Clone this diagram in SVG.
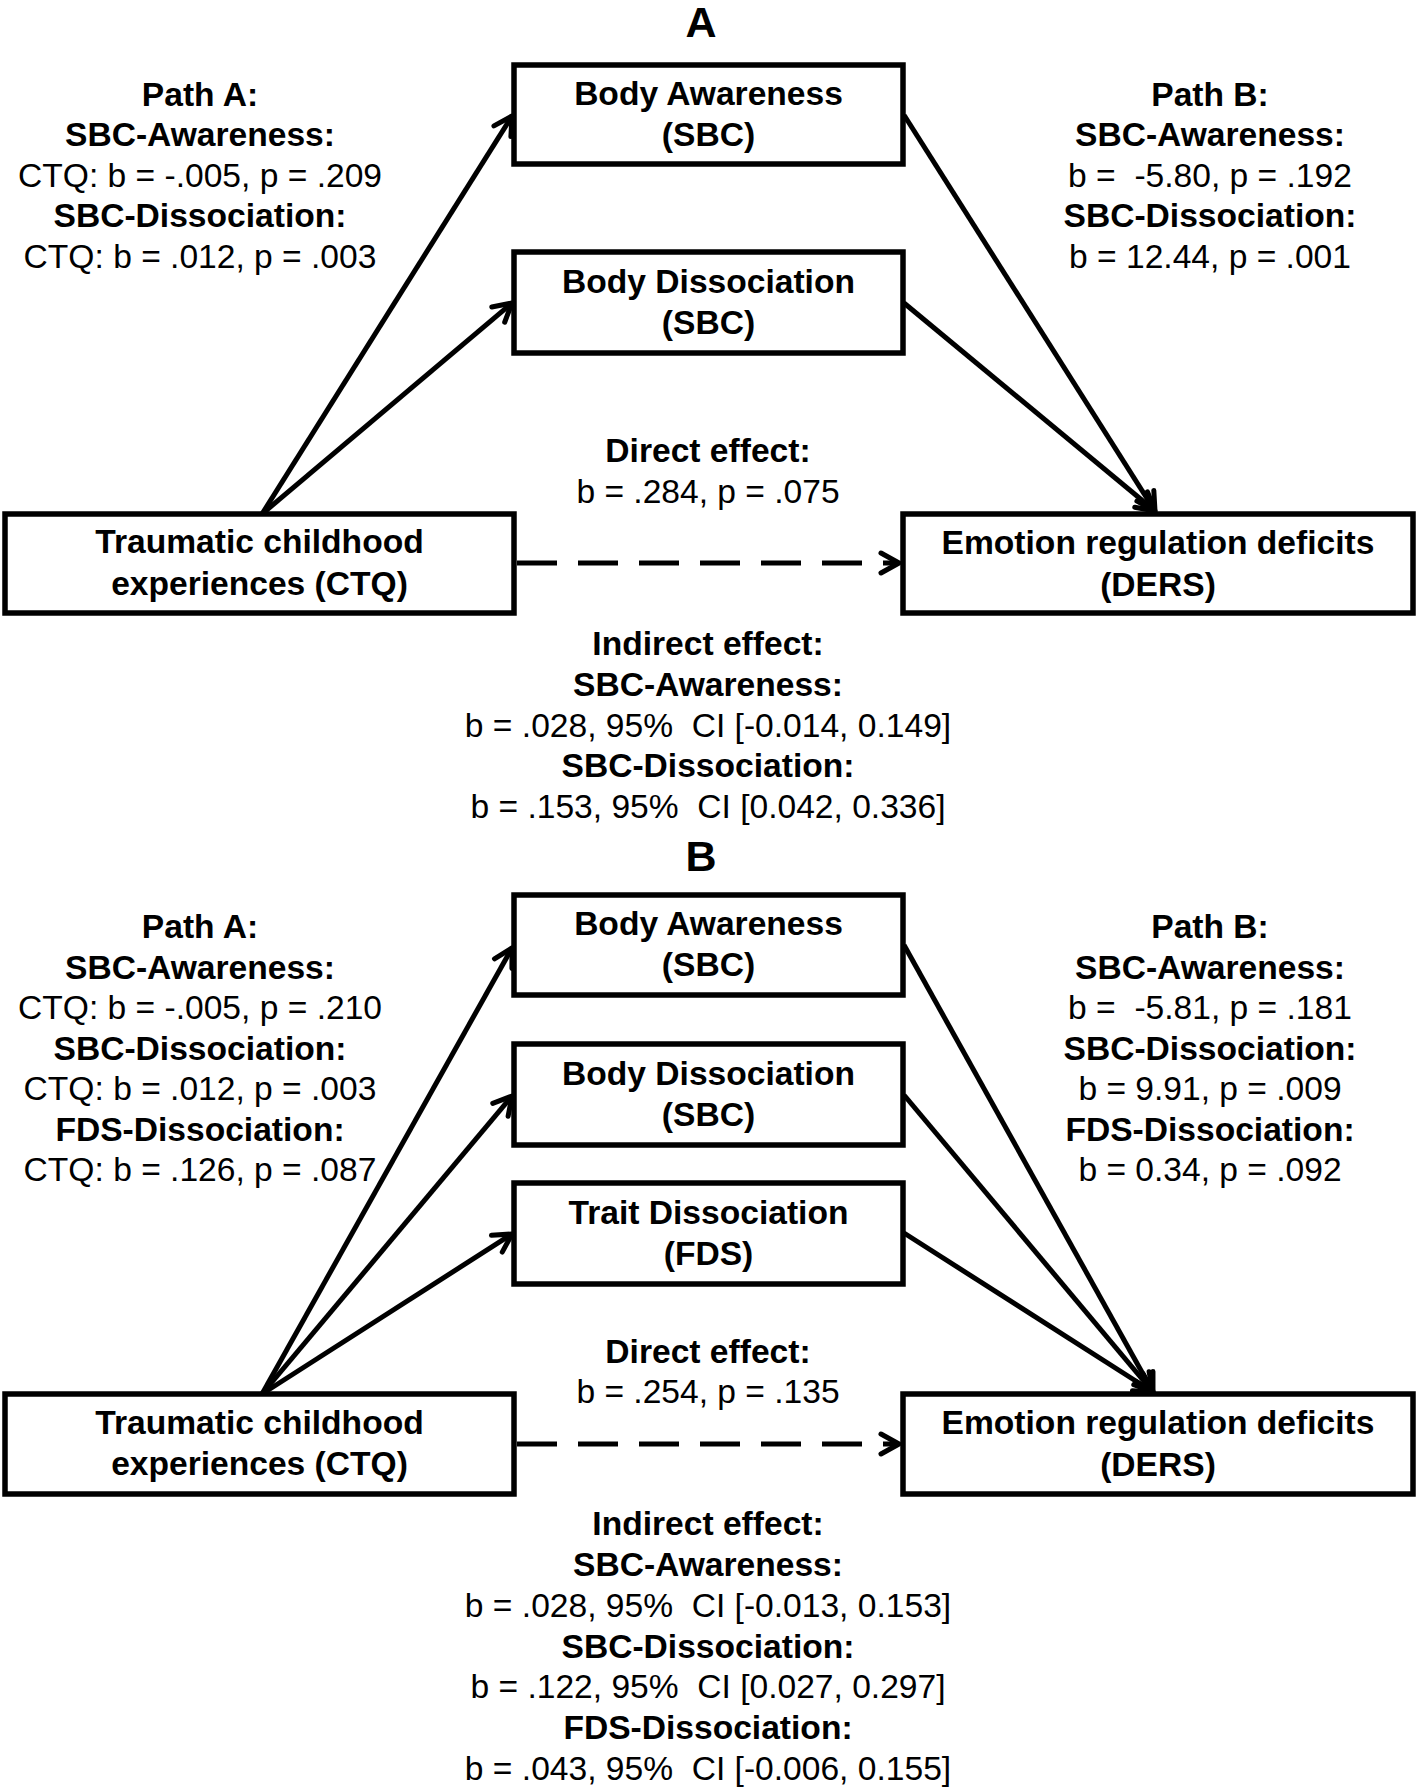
<svg xmlns="http://www.w3.org/2000/svg" width="1418" height="1791" viewBox="0 0 1418 1791">
<style>
.box{fill:#fff;stroke:#000;stroke-width:5.5}
.lab{font-family:"Liberation Sans",Arial,sans-serif;font-size:33.6px;font-weight:bold;text-anchor:middle;fill:#000}
.b{font-family:"Liberation Sans",Arial,sans-serif;font-size:33.6px;font-weight:bold;text-anchor:middle;fill:#000}
.r{font-family:"Liberation Sans",Arial,sans-serif;font-size:33.6px;text-anchor:middle;fill:#000;white-space:pre}
.title{font-family:"Liberation Sans",Arial,sans-serif;font-size:43px;font-weight:bold;text-anchor:middle;fill:#000}
.conn{stroke:#000;stroke-width:5;fill:none;marker-end:url(#ah)}
.dash{stroke-dasharray:40 21}
</style>
<defs>
<marker id="ah" viewBox="0 0 24 24" refX="21" refY="12" markerWidth="24" markerHeight="24" markerUnits="userSpaceOnUse" orient="auto" overflow="visible">
<path d="M3,2 L21,12 L3,22" fill="none" stroke="#000" stroke-width="5" stroke-linecap="round" stroke-linejoin="round"/>
</marker>
</defs>
<rect width="1418" height="1791" fill="#fff"/>

<!-- Panel A -->
<text class="title" x="701" y="37">A</text>

<g id="connectors-A">
<line class="conn" x1="262" y1="514" x2="512" y2="116"/>
<line class="conn" x1="262" y1="514" x2="512" y2="303"/>
<line class="conn" x1="904" y1="115" x2="1155" y2="511"/>
<line class="conn" x1="904" y1="303" x2="1155" y2="511"/>
<line class="conn dash" x1="517" y1="563" x2="899" y2="563"/>
</g>

<g id="nodeA-body-awareness">
<rect class="box" x="514" y="65" width="389" height="99"/>
<text class="lab" x="708.5" y="105">Body Awareness</text>
<text class="lab" x="708.5" y="146">(SBC)</text>
</g>
<g id="nodeA-body-dissociation">
<rect class="box" x="514" y="252" width="389" height="101"/>
<text class="lab" x="708.5" y="293">Body Dissociation</text>
<text class="lab" x="708.5" y="334">(SBC)</text>
</g>
<g id="nodeA-ctq">
<rect class="box" x="5" y="514" width="509" height="99"/>
<text class="lab" x="259.5" y="553">Traumatic childhood</text>
<text class="lab" x="259.5" y="595">experiences (CTQ)</text>
</g>
<g id="nodeA-ders">
<rect class="box" x="903" y="514" width="510" height="99"/>
<text class="lab" x="1158" y="554">Emotion regulation deficits</text>
<text class="lab" x="1158" y="596">(DERS)</text>
</g>

<g id="labelsA-pathA">
<text class="b" x="200" y="106">Path A:</text>
<text class="b" x="200" y="146">SBC-Awareness:</text>
<text class="r" x="200" y="187">CTQ: b = -.005, p = .209</text>
<text class="b" x="200" y="227">SBC-Dissociation:</text>
<text class="r" x="200" y="268">CTQ: b = .012, p = .003</text>
</g>
<g id="labelsA-pathB">
<text class="b" x="1210" y="106">Path B:</text>
<text class="b" x="1210" y="146">SBC-Awareness:</text>
<text class="r" x="1210" y="187">b =  -5.80, p = .192</text>
<text class="b" x="1210" y="227">SBC-Dissociation:</text>
<text class="r" x="1210" y="268">b = 12.44, p = .001</text>
</g>
<g id="labelsA-direct">
<text class="b" x="708" y="462">Direct effect:</text>
<text class="r" x="708" y="503">b = .284, p = .075</text>
</g>
<g id="labelsA-indirect">
<text class="b" x="708" y="655">Indirect effect:</text>
<text class="b" x="708" y="696">SBC-Awareness:</text>
<text class="r" x="708" y="737">b = .028, 95%  CI [-0.014, 0.149]</text>
<text class="b" x="708" y="777">SBC-Dissociation:</text>
<text class="r" x="708" y="818">b = .153, 95%  CI [0.042, 0.336]</text>
</g>

<!-- Panel B -->
<text class="title" x="701" y="871">B</text>

<g id="connectors-B">
<line class="conn" x1="262" y1="1394" x2="512" y2="948"/>
<line class="conn" x1="262" y1="1394" x2="512" y2="1096"/>
<line class="conn" x1="262" y1="1394" x2="512" y2="1234"/>
<line class="conn" x1="904" y1="945" x2="1153" y2="1392"/>
<line class="conn" x1="904" y1="1095" x2="1153" y2="1392"/>
<line class="conn" x1="904" y1="1233" x2="1153" y2="1392"/>
<line class="conn dash" x1="517" y1="1444" x2="899" y2="1444"/>
</g>

<g id="nodeB-body-awareness">
<rect class="box" x="514" y="895" width="389" height="100"/>
<text class="lab" x="708.5" y="935">Body Awareness</text>
<text class="lab" x="708.5" y="976">(SBC)</text>
</g>
<g id="nodeB-body-dissociation">
<rect class="box" x="514" y="1044" width="389" height="101"/>
<text class="lab" x="708.5" y="1085">Body Dissociation</text>
<text class="lab" x="708.5" y="1126">(SBC)</text>
</g>
<g id="nodeB-trait-dissociation">
<rect class="box" x="514" y="1183" width="389" height="101"/>
<text class="lab" x="708.5" y="1224">Trait Dissociation</text>
<text class="lab" x="708.5" y="1265">(FDS)</text>
</g>
<g id="nodeB-ctq">
<rect class="box" x="5" y="1394" width="509" height="100"/>
<text class="lab" x="259.5" y="1434">Traumatic childhood</text>
<text class="lab" x="259.5" y="1475">experiences (CTQ)</text>
</g>
<g id="nodeB-ders">
<rect class="box" x="903" y="1394" width="510" height="100"/>
<text class="lab" x="1158" y="1434">Emotion regulation deficits</text>
<text class="lab" x="1158" y="1476">(DERS)</text>
</g>

<g id="labelsB-pathA">
<text class="b" x="200" y="938">Path A:</text>
<text class="b" x="200" y="979">SBC-Awareness:</text>
<text class="r" x="200" y="1019">CTQ: b = -.005, p = .210</text>
<text class="b" x="200" y="1060">SBC-Dissociation:</text>
<text class="r" x="200" y="1100">CTQ: b = .012, p = .003</text>
<text class="b" x="200" y="1141">FDS-Dissociation:</text>
<text class="r" x="200" y="1181">CTQ: b = .126, p = .087</text>
</g>
<g id="labelsB-pathB">
<text class="b" x="1210" y="938">Path B:</text>
<text class="b" x="1210" y="979">SBC-Awareness:</text>
<text class="r" x="1210" y="1019">b =  -5.81, p = .181</text>
<text class="b" x="1210" y="1060">SBC-Dissociation:</text>
<text class="r" x="1210" y="1100">b = 9.91, p = .009</text>
<text class="b" x="1210" y="1141">FDS-Dissociation:</text>
<text class="r" x="1210" y="1181">b = 0.34, p = .092</text>
</g>
<g id="labelsB-direct">
<text class="b" x="708" y="1363">Direct effect:</text>
<text class="r" x="708" y="1403">b = .254, p = .135</text>
</g>
<g id="labelsB-indirect">
<text class="b" x="708" y="1535">Indirect effect:</text>
<text class="b" x="708" y="1576">SBC-Awareness:</text>
<text class="r" x="708" y="1617">b = .028, 95%  CI [-0.013, 0.153]</text>
<text class="b" x="708" y="1658">SBC-Dissociation:</text>
<text class="r" x="708" y="1698">b = .122, 95%  CI [0.027, 0.297]</text>
<text class="b" x="708" y="1739">FDS-Dissociation:</text>
<text class="r" x="708" y="1780">b = .043, 95%  CI [-0.006, 0.155]</text>
</g>
</svg>
